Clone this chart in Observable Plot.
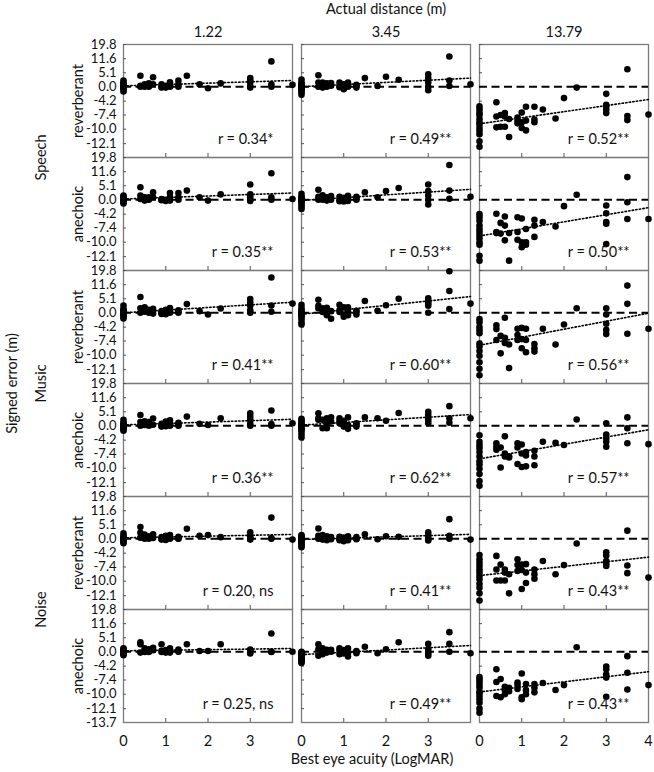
<!DOCTYPE html>
<html><head><meta charset="utf-8">
<script src="https://cdn.jsdelivr.net/npm/d3@7"></script>
<script src="https://cdn.jsdelivr.net/npm/@observablehq/plot@0.6"></script>
<style>body{margin:0;background:#fff}</style>
</head><body><div id="chart"></div>
<script>
// ---- data ----
const distances = ["1.22", "3.45", "13.79"];
const stimuli = ["Speech", "Music", "Noise"];
const rooms = ["reverberant", "anechoic"];

// best eye acuity (LogMAR) of each participant, shared by every panel
const acuity = [0,0,0,0,0,0,0,0,0,0,0,0, 0.4,0.4,0.4, 0.5,0.5, 0.6,0.6,0.6, 0.7,0.7, 0.9,0.9,0.9, 1.0,1.0,1.0, 1.1,1.1,1.1, 1.3,1.3,1.3, 1.5, 1.8, 2.0, 2.3, 3.0,3.0,3.0,3.0,3.0, 3.5,3.5,3.5, 4.0];

// signed error (m), in acuity order
const speechRev122 = [2.1,0.9,0.4,0,-0.3,-0.8,-1.5,0.2,-0.1,1.4,0,-0.5, 3.9,0.3,0, 0.8,0, 1.1,0,0.3, 3.3,0.8, 0.8,0,-0.3, 0.3,0,-0.3, 1.5,0.3,0, 2.1,0.8,0, 3.9, 0.8, -0.5, 1.1, 3.0,2.1,1.5,0.2,-0.3, 10.2,0.8,0, 0.6];
const speechAne122 = [1.4,0.6,0.2,0,-0.4,-1.2,-0.8,0.3,-0.2,0.9,0,-0.6, 4.5,1.4,0.2, 0.8,-0.3, 0.8,0,0.4, 2.6,0.8, 0.2,0,-0.2, -0.3,-0.4,0, 2.3,0.8,-0.3, 2.3,0.8,0, 3.2, 0.8, -0.3, 1.8, 5.6,1.8,0.8,0,-0.4, 10.8,0.8,0, 0.2];
const musicRev122 = [2.5,1.2,0.5,0,-0.4,-0.8,-1.3,-0.2,0.3,-1.8,0.8,-0.6, 5.8,1.5,0, 1.8,0.3, 1.0,0,0.5, 1.3,-0.3, 0.5,0,-0.4, 1.0,0.2,-0.5, 1.6,0.4,0, 0.8,0.2,0, 3.0, 0.5, -0.6, 1.4, 5.0,3.6,2.4,0.8,0, 15.5,2.5,0.3, 3.2];
const musicAne122 = [2.0,1.0,0.4,0,-0.3,-0.7,-1.2,0.2,-0.1,-1.6,0.6,-0.4, 3.8,1.2,0, 1.5,0.2, 1.2,0,0.5, 2.5,0.3, 0.6,0,-0.3, 1.4,0.3,-0.2, 1.8,0.5,0, 1.0,0.3,0, 3.2, 0.6, 0.2, 2.6, 4.5,3.2,2.0,0.6,0, 5.6,0.5,0, 0.8];
const noiseRev122 = [1.8,0.8,0.3,0,-0.3,-0.6,-1.0,0.1,-0.2,-1.4,0.5,-0.5, 4.2,2.0,0.3, 1.4,0, 0.8,0,0.3, 1.5,0.2, 0.5,0,-0.3, 1.0,0.2,-0.4, 1.2,0.3,0, 0.6,0.1,0, 3.5, 1.0, 1.2, 0.5, 2.2,1.0,0.3,0,-0.3, 8.2,0.2,0, -0.3];
const noiseAne122 = [1.1,0.5,0,-0.3,-0.6,-1.1,0.2,-0.2,-0.8,0.8,0,-0.4, 3.3,2.6,-0.3, 1.1,-0.1, 0.8,-0.1,0.3, 1.3,0.5, 2.6,-0.1,0.3, 0.5,-0.3,0, 1.1,-0.3,0.2, 0.7,0.2,0, 2.6, 0.2, 0.2, 2.6, 0.7,-0.1,-0.6,0.3,0, 6.9,-0.1,0, 0];

const speechRev345 = [2.5,1.4,0.2,-0.3,-1.3,-2.5,0.6,-0.8,0,-1.8,0.9,-0.5, 4.1,1.4,0, 1.4,-0.3, 1.1,0,0.5, 1.2,0.3, 1.4,0.2,-0.2, 0.8,-0.3,-0.8, 1.4,0,0.5, 0.2,-0.3,0.6, 3.0, 0.2, 3.5, 2.4, 4.5,3.0,1.4,0,-1.1, 12.7,2.1,0.2, 0.8];
const speechAne345 = [2.0,1.0,0.4,0,-0.5,-1.0,-1.6,-2.2,-2.8,0.2,-0.3,0.7, 3.5,1.0,0, 1.5,0, 0.8,-0.3,0.4, 1.2,0, 1.0,0,-0.5, 0.6,0,-0.6, 1.3,0.2,-0.4, 1.0,0.3,0, 2.6, 0.8, 3.0, 4.2, 5.6,3.0,1.4,0,-1.5, 15.2,3.2,0.3, 1.0];
const musicRev345 = [2.7,1.5,0.2,-0.6,-1.3,-2.0,-2.9,-3.5,0,-0.3,0.8,-1.0, 4.7,2.4,1.5, 1.5,0.2, 1.7,-0.3,-0.8, -1.9,0.5, 2.7,0.2,0.8, 1.8,-0.6,-1.3, 1.8,-0.8,0.5, 0.6,-0.6,0.3, 4.2, 0.6, 2.6, 5.1, 5.3,4.0,3.2,2.4,0, 19.3,8.5,1.2, 3.2];
const musicAne345 = [2.4,1.2,0.2,-0.8,-1.8,-2.7,-3.5,0.6,-0.3,1.8,0,-1.2, 4.5,2.6,2.0, 2.0,-0.8, 2.6,-0.8,0.5, 2.9,1.4, 2.6,0.8,1.5, 1.7,-0.3,0.8, 2.9,0.2,-1.0, 0.8,-0.3,0.4, 2.9, 2.6, 1.7, 4.6, 5.1,3.9,2.6,1.7,0.8, 7.5,2.6,1.0, 2.6];
const noiseRev345 = [1.2,0.5,0,-0.4,-0.8,-1.2,-1.7,-2.2,-2.6,0.2,-0.2,0.8, 3.6,1.0,0, 1.2,-0.3, 0.8,-0.5,0.2, 0.5,-0.2, 0.6,0,-0.5, 0.4,-0.3,-0.8, 0.8,0,-0.5, 0.5,-0.2,0, 1.5, -0.2, 0.8, 0.6, 2.2,1.2,0.3,-0.2,-0.6, 7.5,1.0,0, -0.3];
const noiseAne345 = [-0.3,-1.3,-2.1,-2.7,-3.4,-0.8,-1.7,-2.4,0,-3.0,-0.5,-1.0, 2.6,0.8,-1.3, 1.1,-0.8, 0.6,-0.3,0, 0.6,0, 1.1,-0.8,0.3, 0,-0.6,0.5, 1.1,-0.5,-1.5, -0.5,0.2,0, 1.7, -0.5, 0.8, 3.3, 2.7,0,-0.6,-1.3,0.8, 7.5,2.7,0, -0.5];

const speechRev1379 = [-5.5,-6.2,-7.4,-8.2,-9.2,-9.8,-10.3,-11.8,-12.5,-8.8,-7.0,-10.8, -4.5,-7.7,-9.7, -7.4,-9.6, -7.0,-9.6,-7.7, -8.2,-11.2, -7.9,-8.5,-9.0, -6.9,-8.8,-9.8, -5.6,-8.5,-10.2, -5.6,-8.3,-8.8, -6.2, -8.1, -3.4, -0.3, -2.2,-5.1,-5.5,-6.2,-7.0, 6.6,-7.6,-8.4, -7.3];
const speechAne1379 = [-4.2,-5.0,-5.8,-6.9,-7.6,-8.2,-8.8,-9.4,-10.0,-10.4,-12.0,-12.6, -4.1,-8.2,-8.4, -6.3,-8.5, -4.8,-6.9,-9.7, -8.4,-12.6, -5.0,-8.2,-9.6, -5.3,-10.0,-10.8, -7.6,-10.0,-10.4, -5.6,-6.9,-9.1, -6.1, -7.1, -2.0, 1.7, -1.8,-4.0,-6.1,-6.5,-10.3, 8.9,-0.8,-5.4, -5.4];
const musicRev1379 = [-2.0,-2.9,-4.2,-5.0,-5.7,-7.9,-8.5,-9.3,-10.1,-11.1,-12.0,-12.8, -3.7,-4.7,-7.2, -6.3,-9.7, -1.6,-6.7,-7.8, -8.1,-11.9, -4.6,-6.1,-7.2, -4.4,-7.0,-8.8, -4.6,-7.2,-9.5, -8.0,-8.8,-9.4, -4.6, -8.1, -3.5, 1.5, 1.5,-0.6,-3.3,-4.9,-5.9, 11.1,3.1,-5.8, -4.6];
const musicAne1379 = [-2.9,-4.6,-5.4,-6.1,-7.0,-7.9,-8.8,-9.4,-10.1,-10.9,-11.9,-12.5, -5.0,-5.8,-6.5, -6.0,-9.9, -3.2,-7.3,-7.9, -7.9,-8.1, -5.0,-6.0,-9.3, -5.3,-7.3,-9.8, -7.0,-7.7,-9.7, -6.7,-7.9,-9.5, -4.6, -4.9, -5.4, 2.1, 0.8,-2.7,-3.7,-4.6,-5.8, 2.9,-0.8,-5.0, -5.2];
const noiseRev1379 = [-4.7,-5.7,-6.5,-7.2,-7.9,-8.5,-9.1,-9.7,-10.4,-11.0,-11.8,-12.7, -4.9,-7.9,-9.9, -6.9,-9.9, -7.9,-9.9,-8.5, -8.8,-11.8, -5.7,-8.2,-7.0, -6.9,-11.2,-8.0, -6.8,-8.5,-10.3, -7.9,-8.8,-9.6, -6.1, -8.8, -7.0, -1.5, -4.0,-4.8,-6.1,-6.7,-7.2, 2.8,-7.1,-8.6, -9.4];
const noiseAne1379 = [-6.8,-7.3,-7.8,-8.4,-8.9,-9.6,-9.8,-10.3,-10.8,-11.3,-12.1,-12.6, -5.0,-7.8,-10.3, -7.2,-10.5, -8.7,-10.0,-9.3, -8.9,-9.5, -8.4,-9.1,-7.9, -6.0,-10.5,-10.8, -8.2,-9.3,-10.0, -8.2,-8.9,-9.7, -8.0, -9.3, -8.4, 1.5, -4.3,-5.0,-6.2,-6.9,-10.4, -1.4,-5.8,-9.2, -8.4];

// correlation labels, rows in order Speech rev/ane, Music rev/ane, Noise rev/ane
const rLabels122 = ["r = 0.34*", "r = 0.35**", "r = 0.41**", "r = 0.36**", "r = 0.20, ns", "r = 0.25, ns"];
const rLabels345 = ["r = 0.49**", "r = 0.53**", "r = 0.60**", "r = 0.62**", "r = 0.41**", "r = 0.49**"];
const rLabels1379 = ["r = 0.52**", "r = 0.50**", "r = 0.56**", "r = 0.57**", "r = 0.43**", "r = 0.43**"];

// axis ticks
const yTicks = [19.8, 11.6, 5.1, 0.0, -4.2, -7.4, -10.0, -12.1];
const yMin = -13.7, yMax = 19.8;
const xTicks = [0, 1, 2, 3];
const xLastTick = 4;
const OFFSET = 20; // the y axis is logarithmic in (signed error + 20)

// ---- build tables ----
const rowKeys = stimuli.flatMap(s => rooms.map(r => s + "|" + r));
const series = {
  "1.22": [speechRev122, speechAne122, musicRev122, musicAne122, noiseRev122, noiseAne122],
  "3.45": [speechRev345, speechAne345, musicRev345, musicAne345, noiseRev345, noiseAne345],
  "13.79": [speechRev1379, speechAne1379, musicRev1379, musicAne1379, noiseRev1379, noiseAne1379]
};
const rLabels = {"1.22": rLabels122, "3.45": rLabels345, "13.79": rLabels1379};
const points = [];
const labels = [];
for (const col of distances) {
  rowKeys.forEach((row, j) => {
    series[col][j].forEach((e, i) => points.push({col, row, acuity: acuity[i], error: e}));
    labels.push({col, row, text: rLabels[col][j]});
  });
}

const font = "Lato, 'Liberation Sans', sans-serif";
const ty = d => d + OFFSET;
const fmt = d => (d - OFFSET).toFixed(1);
const fmtX = d => d.toFixed(0);

const chart = Plot.plot({
  width: 654, height: 772,
  marginTop: 43, marginBottom: 49, marginLeft: 122, marginRight: 5,
  style: {fontFamily: font, fontSize: "14px", background: "#fff", color: "#111"},
  fx: {domain: distances, paddingInner: 0.048, paddingOuter: 0},
  fy: {domain: rowKeys, paddingInner: 0, paddingOuter: 0, axis: null},
  x: {domain: [0, 4]},
  y: {type: "log", domain: [ty(yMin), ty(yMax)]},
  marks: [
    Plot.frame({stroke: "#7a7a7a", strokeWidth: 1.3}),
    Plot.tickY(yTicks, {y: ty, insetRight: 166, stroke: "#555", strokeWidth: 1}),
    Plot.tickX(xTicks.slice(1), {x: d => d, insetTop: 109, stroke: "#555", strokeWidth: 1}),
    Plot.ruleY([0], {y: ty, stroke: "#000", strokeWidth: 2, strokeDasharray: "8,4.5"}),
    Plot.linearRegressionY(points, {x: "acuity", y: d => ty(d.error), fx: "col", fy: "row", ci: 0, stroke: "#000", strokeWidth: 1.6, strokeDasharray: "1.4,2.2"}),
    Plot.dot(points, {x: "acuity", y: d => ty(d.error), fx: "col", fy: "row", r: 3.3, fill: "#000", stroke: null}),
    Plot.text(labels, {fx: "col", fy: "row", text: "text", frameAnchor: "bottom-right", textAnchor: "end", lineAnchor: "middle", dx: -19, dy: -18, fontSize: 14.5, fill: "#111"}),
    Plot.axisY({ticks: yTicks.map(ty), tickSize: 0, tickPadding: 7, tickFormat: fmt, label: null, fontSize: 13}),
    Plot.axisY({ticks: [ty(yMin)], facetAnchor: "bottom-left", tickSize: 0, tickPadding: 7, tickFormat: fmt, label: null, fontSize: 13}),
    Plot.axisX({ticks: xTicks, tickSize: 0, tickPadding: 13, tickFormat: fmtX, label: null, fontSize: 14.5}),
    Plot.axisX({ticks: [xLastTick], facetAnchor: "bottom-right", tickSize: 0, tickPadding: 13, tickFormat: fmtX, label: null, fontSize: 14.5}),
    Plot.axisFx({anchor: "top", tickSize: 0, tickPadding: 8, label: null, fontSize: 14.5}),
    Plot.text(rowKeys, {fx: () => distances[0], fy: d => d, text: d => d.split("|")[1], frameAnchor: "left", textAnchor: "middle", lineAnchor: "middle", rotate: -90, dx: -45, fontSize: 14.5, fill: "#111"}),
    Plot.text(stimuli, {fx: () => distances[0], fy: s => s + "|reverberant", text: s => s, frameAnchor: "bottom-left", textAnchor: "middle", lineAnchor: "middle", rotate: -90, dx: -82, fontSize: 14.5, fill: "#111"}),
    Plot.text(["Signed error (m)"], {fx: () => distances[0], fy: () => "Music|reverberant", text: d => d, frameAnchor: "bottom-left", textAnchor: "middle", lineAnchor: "middle", rotate: -90, dx: -111, fontSize: 14.5, fill: "#111"}),
    Plot.text(["Actual distance (m)"], {fx: () => distances[1], fy: () => rowKeys[0], text: d => d, frameAnchor: "top", textAnchor: "middle", lineAnchor: "middle", dy: -35, fontSize: 14.5, fill: "#111"}),
    Plot.text(["Best eye acuity (LogMAR)"], {fx: () => distances[1], fy: () => rowKeys[5], text: d => d, frameAnchor: "bottom", textAnchor: "middle", lineAnchor: "middle", dy: 37, dx: -14, fontSize: 14.5, fill: "#111"})
  ]
});
document.getElementById("chart").appendChild(chart);
</script>
</body></html>
